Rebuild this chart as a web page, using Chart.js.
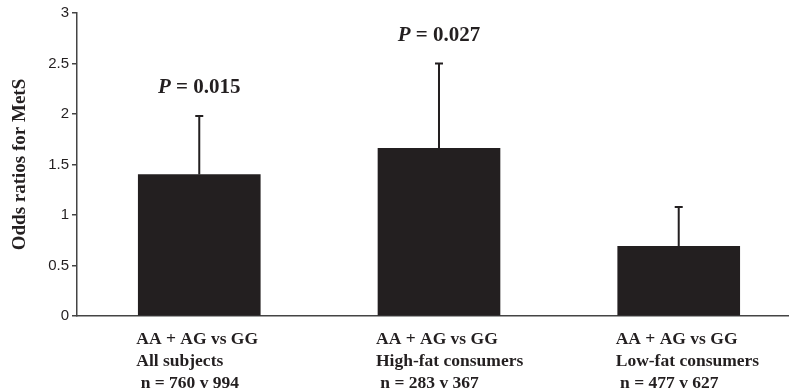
<!DOCTYPE html>
<html>
<head>
<meta charset="utf-8">
<script src="https://cdn.jsdelivr.net/npm/chart.js@4.4.0/dist/chart.umd.min.js"></script>
<style>
  html, body { margin: 0; padding: 0; background: #fff; }
</style>
</head>
<body>
<canvas id="chart" width="789" height="389"></canvas>
<script>
// data
const groupLabels = [
  ['AA + AG vs GG', 'All subjects', ' n = 760 v 994'],
  ['AA + AG vs GG', 'High-fat consumers', ' n = 283 v 367'],
  ['AA + AG vs GG', 'Low-fat consumers', ' n = 477 v 627']
];
const groupPos = [1, 2, 3];
const oddsRatios = [1.40, 1.66, 0.69];
const upperError = [1.98, 2.50, 1.08];
const pValues = ['0.015', '0.027', null];
const yTicks = [0, 0.5, 1, 1.5, 2, 2.5, 3];

const ink = '#231f20';
const serif = '"Liberation Serif", "Times New Roman", serif';

// error bars (upper only) + P value labels
const errorBars = {
  id: 'errorBars',
  afterDatasetsDraw(chart) {
    const { ctx, scales: { x, y } } = chart;
    ctx.save();
    ctx.strokeStyle = ink;
    ctx.lineWidth = 2;
    oddsRatios.forEach((v, i) => {
      const px = x.getPixelForValue(groupPos[i]);
      const y0 = y.getPixelForValue(v);
      const y1 = y.getPixelForValue(upperError[i]);
      ctx.beginPath();
      ctx.moveTo(px, y0);
      ctx.lineTo(px, y1);
      ctx.moveTo(px - 4, y1);
      ctx.lineTo(px + 4, y1);
      ctx.stroke();

      if (pValues[i]) {
        const rest = ' = ' + pValues[i];
        ctx.fillStyle = ink;
        ctx.textBaseline = 'middle';
        ctx.textAlign = 'left';
        ctx.font = 'italic bold 21px ' + serif;
        const wP = ctx.measureText('P').width;
        ctx.font = 'bold 21px ' + serif;
        const wR = ctx.measureText(rest).width;
        const left = px - (wP + wR) / 2;
        const ty = y1 - 28;
        ctx.font = 'italic bold 21px ' + serif;
        ctx.fillText('P', left, ty);
        ctx.font = 'bold 21px ' + serif;
        ctx.fillText(rest, left + wP, ty);
      }
    });
    ctx.restore();
  }
};

new Chart(document.getElementById('chart'), {
  type: 'bar',
  data: {
    datasets: [{
      data: groupPos.map((p, i) => ({ x: p, y: oddsRatios[i] })),
      backgroundColor: ink,
      borderWidth: 0,
      barThickness: 122
    }]
  },
  options: {
    responsive: false,
    animation: false,
    layout: { padding: { top: 13, right: 0, left: 0, bottom: 0 } },
    plugins: {
      legend: { display: false },
      tooltip: { enabled: false }
    },
    scales: {
      x: {
        type: 'linear',
        offset: false,
        min: 0.49,
        max: 3.46,
        afterBuildTicks: (scale) => { scale.ticks = groupPos.map(v => ({ value: v })); },
        afterFit: (scale) => {
          scale.height = 73;
          scale.paddingLeft = 0;
          scale.paddingRight = 0;
        },
        grid: { display: false },
        border: { display: true, color: '#444', width: 1.5 },
        ticks: {
          align: 'start',
          labelOffset: -63,
          padding: 4,
          maxRotation: 0,
          autoSkip: false,
          color: ink,
          font: { family: serif, size: 17.5, weight: 'bold', lineHeight: 1.26 },
          callback: (v) => groupLabels[groupPos.indexOf(v)] || ''
        }
      },
      y: {
        min: 0,
        max: 3,
        afterBuildTicks: (scale) => { scale.ticks = yTicks.map(v => ({ value: v })); },
        afterFit: (scale) => { scale.width = 77; },
        grid: { drawOnChartArea: false, tickLength: 5, color: '#444', lineWidth: 1.5 },
        border: { display: true, color: '#444', width: 1.5 },
        ticks: {
          padding: 3,
          color: ink,
          font: { family: '"Liberation Sans", Arial, sans-serif', size: 15 },
          callback: (v) => String(v)
        },
        title: {
          display: true,
          text: 'Odds ratios for MetS',
          color: ink,
          font: { family: serif, size: 19, weight: 'bold' },
          padding: { top: 9, bottom: 0 }
        }
      }
    }
  },
  plugins: [errorBars]
});
</script>
</body>
</html>
